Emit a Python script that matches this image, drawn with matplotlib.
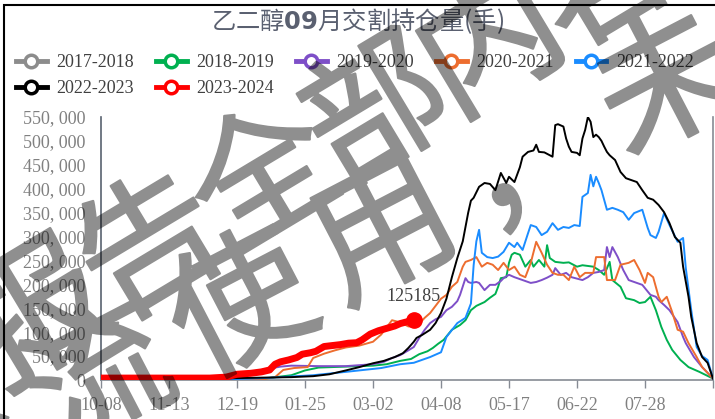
import numpy as np
import matplotlib.pyplot as plt
import matplotlib.patheffects as pe
from matplotlib.lines import Line2D
from matplotlib.patches import Rectangle

plt.rcParams['font.family'] = ['Liberation Serif', 'Noto Sans CJK SC', 'DejaVu Sans']
plt.rcParams['mathtext.fontset'] = 'dejavusans'

title = '乙二醇$\\mathbf{09}$月交割持仓量(手)'
seasons = ['2017-2018', '2018-2019', '2019-2020', '2020-2021',
           '2021-2022', '2022-2023', '2023-2024']
colors = ['#8c8c8c', '#00b050', '#7e4fc8', '#ed6d2f', '#1a8cff', '#000000', '#ff0000']
tick_pos = [0, 25, 50, 75, 100, 125, 150, 175, 200, 225]
tick_labels = ['10-08', '11-13', '12-19', '01-25', '03-02', '04-08', '05-17', '06-22', '07-28', '']
watermark = ['报告全部内容', '交流使用，未']

# (trading day index, open interest in thousand lots)
s2017 = []
s2018 = [(0, 0), (40, 0.5), (60, 3), (70, 10), (75, 20), (80, 26), (90, 28), (100, 30), (105, 33),
         (110, 40), (114, 44), (117, 54), (120, 60), (122, 67), (124, 76), (126, 84), (129, 105),
         (132, 115), (134, 125), (136, 146), (138, 155), (141, 163), (143, 172), (145, 180),
         (146, 195), (147, 213), (149, 215), (150, 245), (151, 262), (152, 266), (154, 262),
         (156, 237), (158, 251), (159, 237), (161, 251), (163, 237), (164, 282), (165, 255),
         (167, 247), (170, 245), (172, 246), (175, 237), (177, 240), (181, 237), (183, 230),
         (185, 220), (187, 247), (188, 209), (191, 195), (193, 171), (196, 167), (198, 161),
         (200, 163), (202, 174), (204, 146), (206, 111), (208, 84), (210, 63), (213, 42),
         (216, 27), (220, 17), (225, 3)]
s2019 = [(0, 0), (40, 1), (46, 5), (50, 12), (55, 17), (60, 22), (66, 28), (70, 30), (80, 29),
         (90, 29), (100, 33), (104, 38), (107, 46), (110, 52), (113, 62), (115, 69), (117, 88),
         (119, 105), (121, 119), (123, 127), (125, 132), (127, 146), (129, 153), (131, 165),
         (132, 178), (134, 213), (135, 205), (136, 203), (138, 205), (139, 203), (141, 188),
         (143, 199), (145, 199), (147, 207), (148, 213), (150, 220), (152, 215), (153, 213),
         (155, 209), (157, 205), (158, 203), (160, 205), (162, 209), (164, 214), (166, 220),
         (167, 234), (169, 220), (171, 224), (173, 215), (175, 212), (177, 209), (179, 215),
         (181, 224), (183, 226), (185, 230), (186, 278), (187, 257), (188, 278), (190, 257),
         (192, 230), (194, 209), (197, 203), (199, 199), (202, 178), (204, 174), (205, 167),
         (207, 157), (209, 146), (212, 121), (214, 90), (215, 77), (218, 48), (221, 27),
         (223, 15), (225, 3)]
s2020 = [(0, 0), (40, 0.5), (60, 2), (64, 6), (67, 21), (71, 25), (76, 27), (78, 46), (82, 55),
         (86, 62), (90, 68), (95, 72), (100, 80), (103, 95), (105, 110), (107, 125), (109, 122),
         (111, 118), (113, 112), (115, 113), (117, 118), (119, 130), (121, 140), (123, 155),
         (125, 170), (127, 178), (129, 195), (131, 205), (133, 237), (134, 247), (136, 251),
         (138, 257), (140, 237), (142, 245), (144, 241), (146, 230), (148, 245), (150, 230),
         (152, 237), (154, 220), (156, 215), (158, 245), (160, 289), (162, 266), (164, 241),
         (166, 224), (168, 220), (170, 220), (172, 209), (174, 237), (176, 215), (178, 224),
         (181, 224), (182, 257), (185, 257), (186, 209), (189, 209), (191, 241), (194, 245),
         (196, 251), (198, 230), (200, 203), (201, 224), (203, 215), (205, 174), (206, 163),
         (208, 174), (210, 142), (212, 105), (214, 101), (216, 77), (219, 48), (221, 27),
         (223, 15), (225, 3)]
s2021 = [(0, 0), (30, 1), (50, 2), (60, 4), (66, 6), (78, 10), (90, 17), (103, 25), (110, 33),
         (115, 36), (118, 42), (121, 48), (125, 58), (127, 90), (131, 119), (134, 130), (136, 160),
         (137, 240), (138, 290), (139, 314), (140, 266), (142, 257), (144, 255), (146, 258),
         (148, 268), (150, 287), (152, 278), (153, 287), (155, 272), (157, 307), (158, 324),
         (160, 320), (162, 303), (164, 310), (166, 328), (168, 314), (170, 320), (172, 318),
         (174, 324), (176, 322), (177, 383), (179, 391), (180, 429), (181, 405), (182, 425),
         (183, 412), (184, 397), (186, 356), (188, 360), (190, 356), (192, 351), (194, 335),
         (196, 349), (199, 356), (201, 318), (202, 303), (204, 297), (205, 310), (207, 349),
         (209, 324), (212, 289), (214, 297), (215, 234), (217, 146), (219, 69), (221, 50),
         (223, 42), (225, 3)]
s2022 = [(0, 0), (20, 1), (40, 2), (50, 4), (60, 5), (70, 6), (78, 8), (84, 12), (90, 20),
         (95, 27), (100, 35), (104, 40), (108, 48), (111, 56), (113, 67), (115, 80), (116, 88),
         (118, 94), (121, 105), (123, 119), (125, 140), (127, 170), (129, 215), (131, 255),
         (133, 290), (135, 350), (136, 375), (137, 381), (139, 404), (141, 412), (143, 410),
         (145, 397), (147, 433), (149, 412), (150, 425), (152, 414), (154, 445), (155, 467),
         (157, 477), (159, 480), (160, 492), (161, 477), (163, 476), (165, 470), (166, 467),
         (167, 533), (168, 535), (170, 530), (171, 505), (172, 488), (173, 477), (175, 475),
         (176, 470), (177, 505), (178, 523), (179, 550), (180, 540), (181, 508), (182, 513),
         (183, 508), (184, 500), (185, 488), (186, 477), (187, 470), (189, 460), (191, 435),
         (193, 422), (195, 418), (197, 414), (199, 397), (201, 381), (203, 377), (205, 366),
         (207, 351), (209, 328), (211, 299), (213, 287), (214, 237), (216, 174), (217, 132),
         (219, 77), (221, 48), (223, 36), (225, 3)]
s2023 = [(0, 4), (20, 4), (40, 4), (46, 6), (50, 12), (55, 14), (59, 17), (62, 21), (64, 33),
         (66, 38), (69, 42), (72, 47), (74, 54), (77, 57), (79, 60), (82, 70), (85, 72), (88, 74),
         (91, 77), (94, 78), (96, 84), (99, 96), (102, 103), (105, 108), (108, 113), (110, 118),
         (112, 121), (115, 125.185)]
series = [s2017, s2018, s2019, s2020, s2021, s2022, s2023]

W, H = 715, 419
fig = plt.figure(figsize=(W / 100, H / 100), dpi=100)
ax = fig.add_axes([101 / W, 1 - 380 / H, 612 / W, 263 / H])

for name, c, s in zip(seasons, colors, series):
    if not s:
        continue
    x, y = np.array(s).T
    y = y * 1000
    if name == '2023-2024':
        ax.plot(x, y, color=c, lw=5, solid_capstyle='round', zorder=5)
        ax.plot(x[-1], y[-1], 'o', color=c, ms=11, zorder=6)
        ax.annotate(f'{y[-1]:.0f}', (x[-1], y[-1]), xytext=(0, 17), textcoords='offset points',
                    ha='center', va='center', fontsize=13, color='#404040', zorder=6)
    else:
        ax.plot(x, y, color=c, lw=1.4, zorder=3)

ax.set_xlim(0, 225)
ax.set_ylim(0, 550000)
ax.set_xticks(tick_pos)
ax.set_xticklabels(tick_labels)
yt = np.arange(0, 550001, 50000)
ax.set_yticks(yt)
ax.set_yticklabels([f'{v:,}'.replace(',', ', ') for v in yt])
ax.tick_params(axis='y', length=0, pad=11, labelsize=13, labelcolor='#808080')
ax.tick_params(axis='x', length=6, width=1, color='#868b94', pad=6, labelsize=13, labelcolor='#808080')
ax.spines['top'].set_visible(False)
ax.spines['left'].set_color('#596270')
ax.spines['bottom'].set_color('#868b94')
ax.spines['right'].set_color('#868b94')
for sp in ax.spines.values():
    sp.set_linewidth(1.2)

fig.text(0.5, 1 - 21 / H, title, ha='center', va='center', fontsize=17.5, color='#5a6070',
         family=['Noto Sans CJK SC', 'DejaVu Sans'])

handles = [Line2D([], [], color=c, lw=3.5, marker='o', ms=9, mfc='white', mew=2.5) for c in colors]
order = [0, 5, 1, 6, 2, 3, 4]
leg = fig.legend([handles[i] for i in order], [seasons[i] for i in order], ncol=5,
                 loc='upper left', bbox_to_anchor=(16 / W, 1 - 54 / H), frameon=False,
                 fontsize=13, handlelength=1.7, handletextpad=0.55, columnspacing=1.2,
                 labelspacing=0.5, borderaxespad=0, borderpad=0)
for t in leg.get_texts():
    t.set_color('#404040')

fig.patches.append(Rectangle((3.5 / W, -0.05), 1.2, 1 - 5 / H + 0.05, transform=fig.transFigure,
                             fill=False, ec='black', lw=1.5))

# watermark: glyphs drawn on a scratch canvas, then laid over the chart as one translucent layer
wfig = plt.figure(figsize=(W / 100, H / 100), dpi=100)
for text, (x0, y0), step, ang in [(watermark[0], (40, 320), 132, 31),
                                  (watermark[1], (-40, 458), 160, 27.5)]:
    dx, dy = np.cos(np.radians(ang)) * step, -np.sin(np.radians(ang)) * step
    for k, ch in enumerate(text):
        px, py = x0 + k * dx, y0 + k * dy
        wfig.text(px / W, 1 - py / H, ch, ha='center', va='center', rotation=ang,
                  fontsize=102, color='black', family=['Noto Sans CJK SC'],
                  path_effects=[pe.withStroke(linewidth=1.6, foreground='black')])
wfig.canvas.draw()
mask = 1 - np.asarray(wfig.canvas.buffer_rgba())[..., 0] / 255.0
plt.close(wfig)
layer = np.zeros((H, W, 4))
layer[..., 3] = mask * 0.44
fig.figimage(layer, xo=0, yo=0, origin='upper', zorder=10)

fig.savefig('out.png', dpi=100)
